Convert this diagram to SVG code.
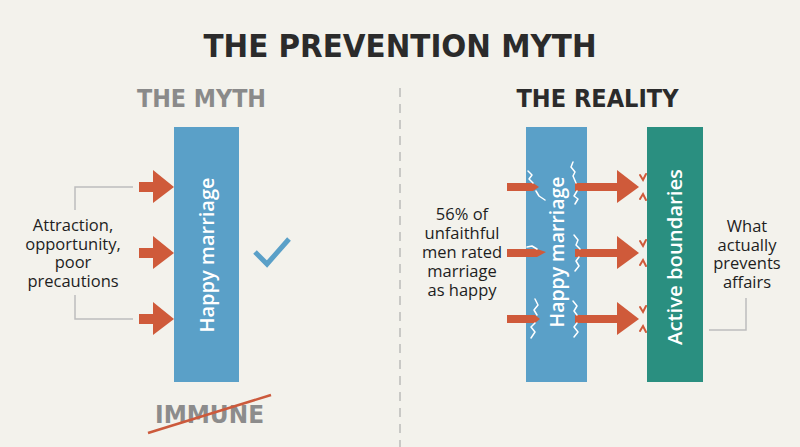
<svg xmlns="http://www.w3.org/2000/svg" width="800" height="447" viewBox="0 0 800 447">
<defs>
<style>
.bg{fill:#f3f2ec}
.title{font-family:"DejaVu Sans",sans-serif;font-weight:bold;fill:#2b2b2b;text-anchor:middle}
.head{font-family:"DejaVu Sans",sans-serif;font-weight:bold;text-anchor:middle}
.body{font-family:"Open Sans","Liberation Sans",sans-serif;font-size:16.5px;fill:#1e1e1e;text-anchor:middle}
.bar{font-family:"Open Sans","Liberation Sans",sans-serif;font-weight:600;font-size:20px;fill:#ffffff;text-anchor:middle}
.blue{fill:#5aa0c8}
.teal{fill:#2a8f80}
.arrow{fill:#cf5a3a}
.brk{fill:none;stroke:#bdbdbd;stroke-width:1.5}
.crack{fill:none;stroke:#ffffff;stroke-width:1.5;stroke-linejoin:round;stroke-linecap:round}
.spark{fill:none;stroke:#cf5a3a;stroke-width:2;stroke-linecap:round}
</style>
<g id="arrL">
<rect x="-35" y="-5" width="15" height="10"/>
<polygon points="-21,-17 0,0 -21,16"/>
</g>
<g id="arrR">
<rect x="-64" y="-4" width="43" height="8"/>
<polygon points="-22,-17 0,0 -22,16"/>
</g>
</defs>
<rect class="bg" x="0" y="0" width="800" height="447"/>
<text class="title" x="400" y="57" font-size="32" textLength="393" lengthAdjust="spacingAndGlyphs">THE PREVENTION MYTH</text>
<text class="head" x="201.5" y="107" font-size="25" fill="#8a8a8a" textLength="129" lengthAdjust="spacingAndGlyphs">THE MYTH</text>
<text class="head" x="597.5" y="107" font-size="25" fill="#2b2b2b" textLength="162" lengthAdjust="spacingAndGlyphs">THE REALITY</text>
<line x1="400" y1="88" x2="400" y2="447" stroke="#c9c9c6" stroke-width="2" stroke-dasharray="9,7"/>

<g id="myth-marriage">
<rect class="blue" x="174" y="127" width="65" height="255"/>
<text class="bar" transform="translate(214,255) rotate(-90)" textLength="155" lengthAdjust="spacingAndGlyphs">Happy marriage</text>
</g>
<g id="myth-label">
<text class="body" x="73" y="231">Attraction,</text>
<text class="body" x="73" y="249.5">opportunity,</text>
<text class="body" x="73" y="268">poor</text>
<text class="body" x="73" y="286.5">precautions</text>
</g>
<g id="check">
<polyline points="255,252 267,264 289,239" fill="none" stroke="#5aa0c8" stroke-width="5"/>
</g>
<g id="immune">
<text class="head" x="209.5" y="423" font-size="25" fill="#8c8c8c" textLength="109" lengthAdjust="spacingAndGlyphs">IMMUNE</text>
<line x1="148" y1="433" x2="271" y2="395" stroke="#cc5a3c" stroke-width="2.5"/>
</g>

<g id="reality-marriage">
<rect class="blue" x="526" y="127" width="61" height="255"/>
<text class="bar" transform="translate(564,252) rotate(-90)" textLength="151" lengthAdjust="spacingAndGlyphs">Happy marriage</text>
</g>
<g id="boundaries">
<rect class="teal" x="647" y="127" width="56" height="255"/>
<text class="bar" transform="translate(682,257) rotate(-90)" textLength="176" lengthAdjust="spacingAndGlyphs">Active boundaries</text>
</g>
<g id="reality-label">
<text class="body" x="462" y="220">56% of</text>
<text class="body" x="462" y="239">unfaithful</text>
<text class="body" x="462" y="258">men rated</text>
<text class="body" x="462" y="277">marriage</text>
<text class="body" x="462" y="296">as happy</text>
</g>
<g id="prevents-label">
<text class="body" x="747" y="232">What</text>
<text class="body" x="747" y="250.5">actually</text>
<text class="body" x="747" y="269">prevents</text>
<text class="body" x="747" y="287.5">affairs</text>
</g>

<g id="connectors">
<polyline class="brk" points="133,187 75,187 75,210"/>
<polyline class="brk" points="75,295 75,319 133,319"/>
<polyline class="brk" points="709,330 746,330 746,298"/>
<g class="arrow">
<use href="#arrL" x="174" y="187"/>
<use href="#arrL" x="174" y="253"/>
<use href="#arrL" x="174" y="319"/>
<polygon points="507,183 533,183 539,187 533,191 507,191"/>
<polygon points="507,249 537,249 546,252 537,257 507,257"/>
<polygon points="507,315 535,315 540,319 535,323 507,323"/>
<use href="#arrR" x="639" y="187"/>
<use href="#arrR" x="639" y="253"/>
<use href="#arrR" x="639" y="319"/>
</g>
<g class="crack">
<polyline points="533,183 529,179 532,175 528,171"/>
<polyline points="536,191 539,196 545,200"/>
<polyline points="576,183 573,176 575,172 571,167 573,162"/>
<polyline points="577,191 574,196 578,199 575,204"/>
<polyline points="537,249 532,246 527,247"/>
<polyline points="580,249 576,245 578,240 574,235"/>
<polyline points="579,257 576,261 579,266 575,271"/>
<polyline points="537,315 534,310 538,305 535,299"/>
<polyline points="535,323 531,327 535,332 531,338"/>
<polyline points="577,315 574,311 577,306 573,301"/>
<polyline points="577,323 574,327 578,332 574,337"/>
</g>
<g class="spark">
<polyline points="640,175 643,180 646,174"/>
<polyline points="640,199 643,194 646,200"/>
<polyline points="640,241 643,246 646,240"/>
<polyline points="640,265 643,260 646,266"/>
<polyline points="640,307 643,312 646,306"/>
<polyline points="640,331 643,326 646,332"/>
</g>
</g>
</svg>
